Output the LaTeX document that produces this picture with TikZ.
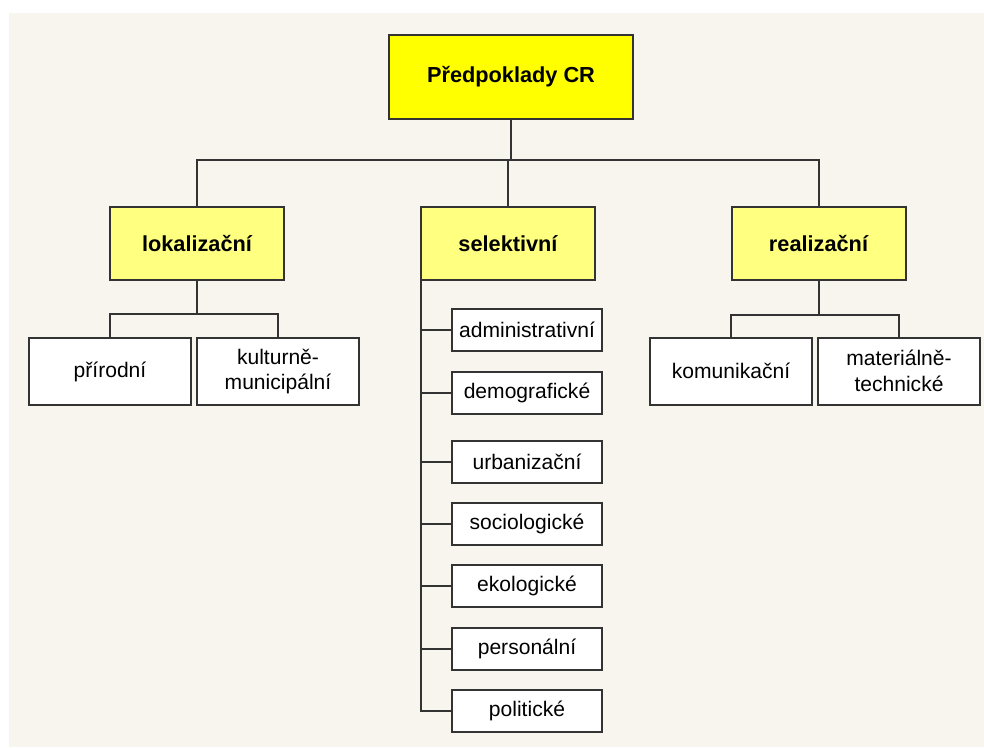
\documentclass[tikz,border=0pt]{standalone}
\usepackage{fontspec}
\setmainfont{Liberation Sans}
\begin{document}
\begin{tikzpicture}[x=0.75pt,y=-0.75pt,
  every node/.style={inner sep=0pt,outer sep=0pt,align=center,text=black},
  box/.style={draw=boxline,line width=1.5pt,fill=white,font=\fontsize{15.8}{19}\selectfont},
  topbox/.style={box,fill=topyellow,font=\bfseries\fontsize{16.3}{19}\selectfont,minimum width=183pt,minimum height=63pt},
  midbox/.style={box,fill=midyellow,font=\bfseries\fontsize{16.3}{19}\selectfont,minimum width=130.5pt,minimum height=54.75pt},
  leafbox/.style={box,minimum width=121.5pt,minimum height=50.25pt},
  selbox/.style={box,minimum width=112.5pt,minimum height=31.5pt},
  conn/.style={draw=boxline,line width=1.5pt}
]
\definecolor{bg}{HTML}{F8F5EF}
\definecolor{boxline}{HTML}{333333}
\definecolor{topyellow}{HTML}{FFFF00}
\definecolor{midyellow}{HTML}{FFFF80}
\useasboundingbox (0,0) rectangle (984,747);
\fill[white] (0,0) rectangle (984,747);
\fill[bg] (9,13) rectangle (984,747);

\coordinate (bus) at (507,160);
\coordinate (lokbus) at (197,314);
\coordinate (realbus) at (818.5,315);

\node[topbox] (top) at (511,77) {Předpoklady CR};
\node[midbox] (lok) at (197,243.5) {lokalizační};
\node[midbox] (sel) at (508,243.5) {selektivní};
\node[midbox] (real) at (818.5,243.5) {realizační};

\node[leafbox] (prir) at (110,371.5) {přírodní};
\node[leafbox] (kult) at (278,371.5) {kulturně-\\municipální};
\node[leafbox] (kom) at (731,371) {komunikační};
\node[leafbox] (mat) at (899,371) {materiálně-\\technické};

\node[selbox] (adm) at (527,329.5) {administrativní};
\node[selbox] (dem) at (527,392.5) {demografické};
\node[selbox] (urb) at (527,461.5) {urbanizační};
\node[selbox] (soc) at (527,523.5) {sociologické};
\node[selbox] (eko) at (527,585.5) {ekologické};
\node[selbox] (per) at (527,648.5) {personální};
\node[selbox] (pol) at (527,710.5) {politické};

\draw[conn] (top.south) -- (top.south |- bus);
\draw[conn] (lok.north) |- (real.north |- bus) -- (real.north);
\draw[conn] (sel.north) -- (sel.north |- bus);

\draw[conn] (lok.south) -- (lokbus);
\draw[conn] (prir.north) |- (lokbus) -| (kult.north);
\draw[conn] (real.south) -- (realbus);
\draw[conn] (kom.north) |- (realbus) -| (mat.north);

\draw[conn] (sel.south west) |- (pol.west);
\foreach \n in {adm,dem,urb,soc,eko,per}
  \draw[conn] (\n.west) -- (\n.west -| sel.south west);
\end{tikzpicture}
\end{document}
